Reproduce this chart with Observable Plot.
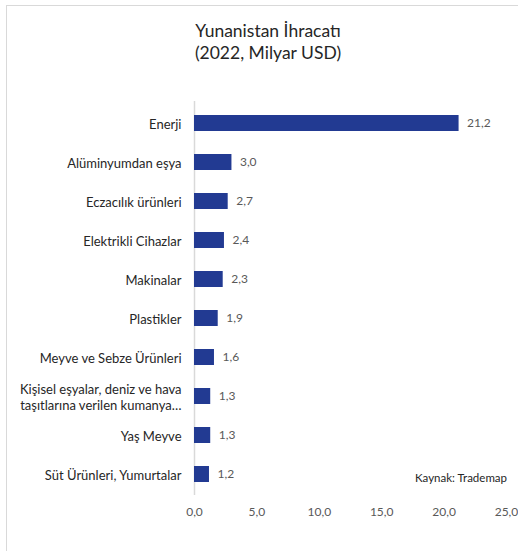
<!DOCTYPE html>
<html><head><meta charset="utf-8">
<script src="https://cdn.jsdelivr.net/npm/d3@7"></script>
<script src="https://cdn.jsdelivr.net/npm/@observablehq/plot@0.6"></script>
<style>
html,body{margin:0;padding:0;background:#fff;}
#wrap{position:relative;width:518px;height:551px;overflow:hidden;font-family:Lato,"Open Sans",sans-serif;}
#frame{position:absolute;left:6px;top:5px;width:520px;height:560px;border-left:1px solid #d9d9d9;border-top:1px solid #d9d9d9;}
#title{position:absolute;left:0;top:20px;width:536px;text-align:center;font-size:17.5px;line-height:22px;color:#262626;}
#chart{position:absolute;left:0;top:0;}
#src{position:absolute;left:415px;top:471px;font-size:11.5px;color:#262626;}
</style></head>
<body><div id="wrap"><div id="frame"></div><div id="chart"></div>
<div id="title">Yunanistan İhracatı<br>(2022, Milyar USD)</div>
<div id="src">Kaynak: Trademap</div></div>
<script>
const categories = ["Enerji","Alüminyumdan eşya","Eczacılık ürünleri","Elektrikli Cihazlar","Makinalar","Plastikler","Meyve ve Sebze Ürünleri","Kişisel eşyalar, deniz ve hava\ntaşıtlarına verilen kumanya…","Yaş Meyve","Süt Ürünleri, Yumurtalar"];
const values = [21.2,3.0,2.7,2.4,2.3,1.9,1.6,1.3,1.3,1.2];
const xTicks = [0,5,10,15,20,25];
const data = categories.map((c,i)=>({cat:c,v:values[i]}));
const fmt = v => v.toFixed(1).replace(".",",");
const chart = Plot.plot({
  width:518, height:551,
  marginLeft:194, marginRight:12, marginTop:101, marginBottom:56,
  style:{fontFamily:"Lato, 'Open Sans', sans-serif", background:"transparent", overflow:"visible"},
  x:{domain:[0,25], ticks:xTicks, tickFormat:fmt, label:null},
  y:{domain:categories, paddingInner:0.6, paddingOuter:0.3, label:null},
  marks:[
    Plot.ruleX([0],{stroke:"#d9d9d9", strokeWidth:1.5}),
    Plot.barX(data,{x:"v", y:"cat", fill:"#223a92"}),
    Plot.text(data,{x:"v", y:"cat", text:d=>fmt(d.v), textAnchor:"start", dx:8, fill:"#595959", fontSize:12}),
    Plot.axisX({ticks:xTicks, tickFormat:fmt, tickSize:0, tickPadding:12, fontSize:12, color:"#595959", label:null}),
    Plot.axisY({tickSize:0, tickPadding:13, fontSize:13, lineHeight:1.25, color:"#262626", label:null, lineWidth:100})
  ]
});
document.getElementById("chart").appendChild(chart);
</script></body></html>
